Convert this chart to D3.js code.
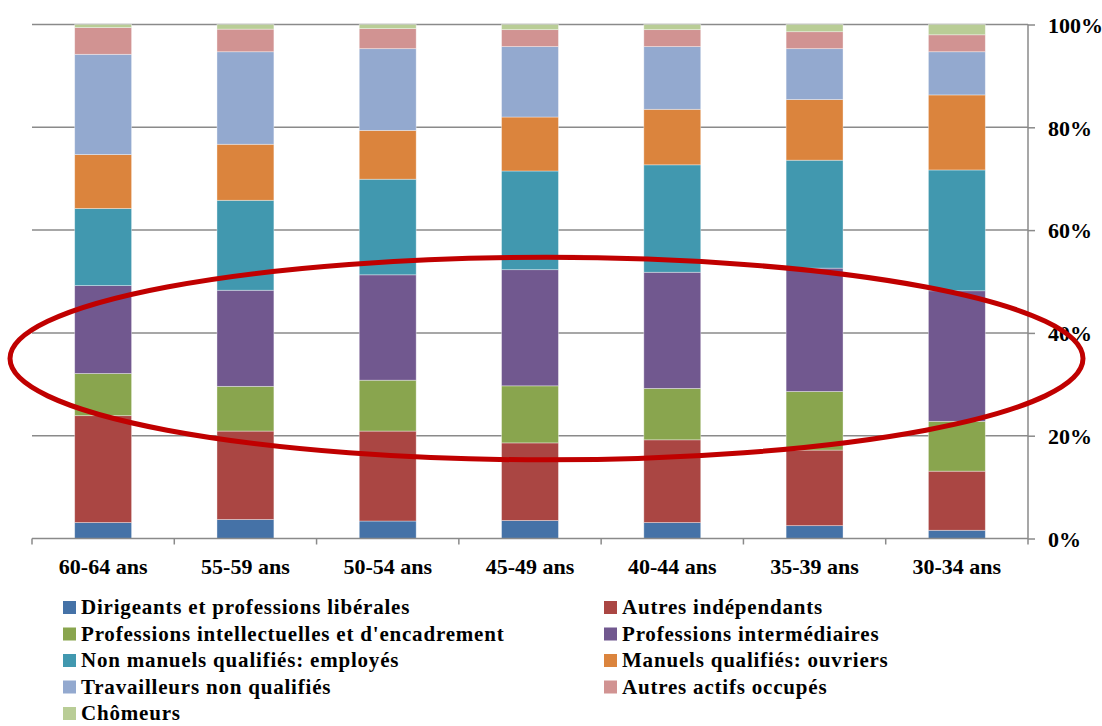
<!DOCTYPE html>
<html>
<head>
<meta charset="utf-8">
<script src="https://cdn.jsdelivr.net/npm/d3@7"></script>
<style>
  html, body { margin: 0; padding: 0; background: #ffffff; }
  svg { display: block; }
  text { font-family: "Liberation Serif", "Times New Roman", serif; font-weight: bold; fill: #000; }
</style>
</head>
<body>
<svg id="chart" width="1102" height="726"></svg>
<script>
// ---- data ----
const categories = ["60-64 ans", "55-59 ans", "50-54 ans", "45-49 ans", "40-44 ans", "35-39 ans", "30-34 ans"];
const seriesNames = [
  "Dirigeants et professions libérales",
  "Autres indépendants",
  "Professions intellectuelles et d'encadrement",
  "Professions intermédiaires",
  "Non manuels qualifiés: employés",
  "Manuels qualifiés: ouvriers",
  "Travailleurs non qualifiés",
  "Autres actifs occupés",
  "Chômeurs"
];
const dirigeants      = [3.1, 3.7, 3.4, 3.5, 3.1, 2.5, 1.6];
const autresIndep     = [20.8, 17.2, 17.5, 15.1, 16.1, 14.7, 11.5];
const profIntell      = [8.2, 8.7, 9.9, 11.1, 10.0, 11.4, 9.7];
const profInterm      = [17.1, 18.7, 20.5, 22.6, 22.6, 24.0, 25.4];
const nonManuels      = [15.0, 17.5, 18.6, 19.2, 20.9, 21.0, 23.5];
const manuels         = [10.5, 10.9, 9.5, 10.5, 10.8, 11.8, 14.6];
const nonQualifies    = [19.5, 18.0, 15.9, 13.7, 12.2, 9.9, 8.4];
const autresActifs    = [5.2, 4.4, 3.9, 3.3, 3.3, 3.3, 3.3];
const chomeurs        = [0.6, 0.9, 0.8, 1.0, 1.0, 1.4, 2.0];
const seriesValues = [dirigeants, autresIndep, profIntell, profInterm, nonManuels, manuels, nonQualifies, autresActifs, chomeurs];
const colors = ["#4572A7", "#AA4643", "#89A54E", "#71588F", "#4198AF", "#DB843D", "#93A9CF", "#D19392", "#B9CD96"];
const yTicks = [0, 20, 40, 60, 80, 100];
// annotation ellipse (in data units of y)
const ellipseYRange = [15.3, 54.7];

// ---- layout ----
const svg = d3.select("#chart");
const plotLeft = 32, plotRight = 1028, plotTop = 24.5, plotBottom = 538.5;

const x = d3.scaleBand().domain(categories).range([plotLeft, plotRight]).paddingInner(0.6).paddingOuter(0.3);
const y = d3.scaleLinear().domain([0, 100]).range([plotBottom, plotTop]);

const rows = categories.map((c, i) => {
  const r = { cat: c };
  seriesNames.forEach((s, k) => { r[s] = seriesValues[k][i]; });
  return r;
});
const totals = rows.map(r => d3.sum(seriesNames, s => r[s]));
// normalize to 100% stacked
const normRows = rows.map((r, i) => {
  const o = { cat: r.cat };
  seriesNames.forEach(s => { o[s] = r[s] / totals[i] * 100; });
  return o;
});
const stack = d3.stack().keys(seriesNames)(normRows);

const gridColor = "#8a8a8a";

// gridlines
svg.append("g").selectAll("line").data(yTicks.filter(t => t > 0)).join("line")
  .attr("x1", plotLeft).attr("x2", plotRight)
  .attr("y1", d => y(d)).attr("y2", d => y(d))
  .attr("stroke", gridColor).attr("stroke-width", 1.5);

// bars
const g = svg.append("g");
stack.forEach((layer, k) => {
  g.append("g").selectAll("rect").data(layer).join("rect")
    .attr("x", d => x(d.data.cat))
    .attr("width", x.bandwidth())
    .attr("y", d => y(d[1]))
    .attr("height", d => y(d[0]) - y(d[1]))
    .attr("fill", colors[k])
    .attr("stroke", "#ffffff").attr("stroke-opacity", 0.45).attr("stroke-width", 0.8);
});

// right y axis
const yAxis = d3.axisRight(y).tickValues(yTicks).tickFormat(d => d + "%").tickSize(7).tickPadding(13);
const ya = svg.append("g").attr("transform", `translate(${plotRight},0)`).call(yAxis);
ya.attr("font-family", null).attr("font-size", null);
ya.select(".domain").attr("stroke", gridColor).attr("stroke-width", 1.5).attr("d", `M0,${plotTop}V${plotBottom}`);
ya.selectAll(".tick line").attr("stroke", gridColor).attr("stroke-width", 1.5);
ya.selectAll(".tick text").attr("font-size", 22).attr("fill", "#000").attr("dy", "0.35em");

// x axis
const xa = svg.append("g").attr("transform", `translate(0,${plotBottom})`);
xa.append("line").attr("x1", plotLeft).attr("x2", plotRight).attr("y1", 0).attr("y2", 0)
  .attr("stroke", gridColor).attr("stroke-width", 1.5);
const boundaries = d3.range(categories.length + 1).map(i => plotLeft + i * (plotRight - plotLeft) / categories.length);
xa.selectAll("line.tk").data(boundaries).join("line").attr("class", "tk")
  .attr("x1", d => d).attr("x2", d => d).attr("y1", 0).attr("y2", 6)
  .attr("stroke", gridColor).attr("stroke-width", 1.5);
xa.selectAll("text").data(categories).join("text")
  .attr("x", d => x(d) + x.bandwidth() / 2)
  .attr("y", 35)
  .attr("text-anchor", "middle")
  .attr("font-size", 22)
  .text(d => d);

// annotation ellipse
svg.append("ellipse")
  .attr("cx", (10 + 1083) / 2)
  .attr("cy", (y(ellipseYRange[0]) + y(ellipseYRange[1])) / 2)
  .attr("rx", (1083 - 10) / 2)
  .attr("ry", (y(ellipseYRange[0]) - y(ellipseYRange[1])) / 2)
  .attr("fill", "none").attr("stroke", "#C00000").attr("stroke-width", 5);

// legend
const legend = svg.append("g");
const colX = [63, 604];
const rowY0 = 607.5, rowStep = 26.5;
seriesNames.forEach((s, k) => {
  const col = k % 2, row = Math.floor(k / 2);
  const lx = colX[col], ly = rowY0 + row * rowStep;
  legend.append("rect").attr("x", lx).attr("y", ly - 6.5).attr("width", 13).attr("height", 13).attr("fill", colors[k]);
  legend.append("text").attr("x", lx + 18).attr("y", ly).attr("dy", "0.33em")
    .attr("font-size", 21).attr("letter-spacing", 0.8).text(s);
});
</script>
</body>
</html>
